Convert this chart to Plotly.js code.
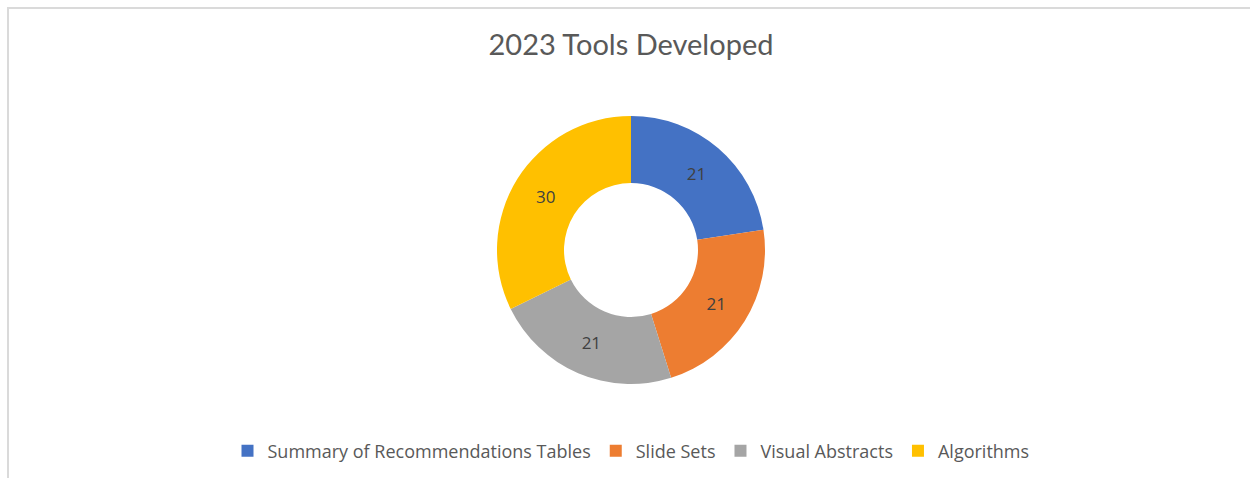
<!DOCTYPE html>
<html>
<head>
<meta charset="utf-8">
<script src="https://cdn.plot.ly/plotly-3.0.1.min.js"></script>
<style>
html,body{margin:0;padding:0;background:#fff;}
#wrap{position:relative;width:1250px;height:478px;overflow:hidden;}
#chart{width:1250px;height:478px;}
#frame{position:absolute;left:7px;top:7px;width:1300px;height:600px;border-left:2px solid #dadada;border-top:2px solid #dadada;pointer-events:none;}
</style>
</head>
<body>
<div id="wrap"><div id="chart"></div><div id="frame"></div></div>
<script>
const categories = ["Summary of Recommendations Tables", "Slide Sets", "Visual Abstracts", "Algorithms"];
const values = [21, 21, 21, 30];
const colors = ["#4472C4", "#ED7D31", "#A5A5A5", "#FFC000"];

const trace = {
  type: "pie",
  labels: categories,
  values: values,
  hole: 0.5,
  sort: false,
  direction: "clockwise",
  rotation: 0,
  marker: {colors: colors, line: {width: 0}},
  textinfo: "value",
  textposition: "inside",
  insidetextorientation: "horizontal",
  textfont: {family: "Open Sans, sans-serif", size: 17, color: "#404040"},
  hoverinfo: "label+value"
};

const layout = {
  width: 1250,
  height: 478,
  margin: {l: 12, r: 0, t: 116, b: 94},
  paper_bgcolor: "#ffffff",
  plot_bgcolor: "#ffffff",
  title: {
    text: "2023 Tools Developed",
    font: {family: "Lato, sans-serif", size: 29, color: "#595959"},
    x: 0.5, xref: "paper", xanchor: "center",
    y: 0.906, yref: "container", yanchor: "middle"
  },
  showlegend: true,
  legend: {
    orientation: "h",
    x: 0.5, xanchor: "center",
    y: -0.25, yanchor: "middle",
    font: {family: "Open Sans, sans-serif", size: 18, color: "#595959"},
    traceorder: "normal"
  }
};

Plotly.newPlot("chart", [trace], layout, {displayModeBar: false, staticPlot: true});
</script>
</body>
</html>
